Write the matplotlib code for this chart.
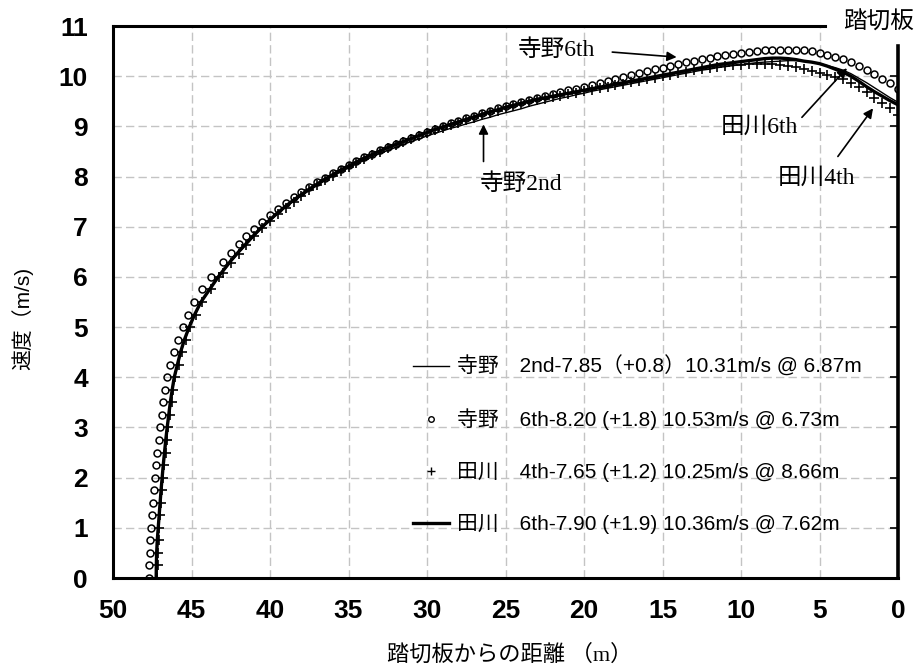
import matplotlib.pyplot as plt
import numpy as np
from matplotlib.lines import Line2D
from matplotlib.ticker import FixedLocator

#======= Donnees =======

# montee (v en m/s, pas 0.25) -> distance lue pour chaque essai
v_rise = [0.0, 0.25, 0.5, 0.75, 1.0, 1.25, 1.5, 1.75, 2.0, 2.25, 2.5, 2.75, 3.0,
          3.25, 3.5, 3.75, 4.0, 4.25, 4.5, 4.75, 5.0, 5.25, 5.5, 5.75, 6.0]

d_rise_teruno2 = [47.22, 47.21, 47.19, 47.15, 47.09, 47.03, 46.97, 46.91, 46.84, 46.77, 46.69, 46.61, 46.52,
                  46.42, 46.32, 46.20, 46.07, 45.87, 45.67, 45.42, 45.12, 44.77, 44.37, 43.82, 43.27]
d_rise_teruno6 = [47.70, 47.69, 47.67, 47.63, 47.58, 47.52, 47.46, 47.40, 47.33, 47.26, 47.18, 47.10, 47.01,
                  46.91, 46.81, 46.69, 46.56, 46.36, 46.14, 45.88, 45.57, 45.22, 44.81, 44.32, 43.78]
d_rise_tagawa4 = [47.17, 47.16, 47.14, 47.10, 47.04, 46.98, 46.92, 46.86, 46.79, 46.72, 46.64, 46.56, 46.47,
                  46.37, 46.27, 46.15, 46.02, 45.82, 45.62, 45.37, 45.07, 44.72, 44.32, 43.78, 43.22]
d_rise_tagawa6 = [47.25, 47.24, 47.22, 47.18, 47.12, 47.06, 47.00, 46.94, 46.87, 46.80, 46.72, 46.64, 46.55,
                  46.45, 46.35, 46.23, 46.10, 45.90, 45.70, 45.45, 45.15, 44.80, 44.40, 43.85, 43.30]

# course (distance au planche, pas 0.5 m) -> vitesse lue
d_run = [43.0, 42.5, 42.0, 41.5, 41.0, 40.5, 40.0, 39.5, 39.0, 38.5,
         38.0, 37.5, 37.0, 36.5, 36.0, 35.5, 35.0, 34.5, 34.0, 33.5,
         33.0, 32.5, 32.0, 31.5, 31.0, 30.5, 30.0, 29.5, 29.0, 28.5,
         28.0, 27.5, 27.0, 26.5, 26.0, 25.5, 25.0, 24.5, 24.0, 23.5,
         23.0, 22.5, 22.0, 21.5, 21.0, 20.5, 20.0, 19.5, 19.0, 18.5,
         18.0, 17.5, 17.0, 16.5, 16.0, 15.5, 15.0, 14.5, 14.0, 13.5,
         13.0, 12.5, 12.0, 11.5, 11.0, 10.5, 10.0, 9.5, 9.0, 8.5,
         8.0, 7.5, 7.0, 6.5, 6.0, 5.5, 5.0, 4.5, 4.0, 3.5,
         3.0, 2.5, 2.0, 1.5, 1.0, 0.5, 0.0]

v_run_teruno2 = [6.10, 6.30, 6.48, 6.65, 6.82, 6.98, 7.12, 7.26, 7.39, 7.51,
                 7.62, 7.72, 7.82, 7.92, 8.01, 8.09, 8.17, 8.25, 8.32, 8.39,
                 8.46, 8.52, 8.58, 8.64, 8.70, 8.75, 8.81, 8.86, 8.91, 8.96,
                 9.00, 9.05, 9.09, 9.14, 9.18, 9.23, 9.27, 9.31, 9.35, 9.40,
                 9.44, 9.48, 9.52, 9.56, 9.59, 9.63, 9.66, 9.70, 9.73, 9.76,
                 9.79, 9.82, 9.85, 9.88, 9.91, 9.94, 9.97, 10.00, 10.03, 10.06,
                 10.09, 10.12, 10.14, 10.17, 10.19, 10.21, 10.23, 10.25, 10.27, 10.28,
                 10.29, 10.30, 10.31, 10.31, 10.30, 10.28, 10.25, 10.21, 10.17, 10.12,
                 10.05, 9.96, 9.87, 9.77, 9.67, 9.57, 9.48]
v_run_teruno6 = [6.30, 6.48, 6.65, 6.81, 6.96, 7.10, 7.23, 7.36, 7.48, 7.59,
                 7.69, 7.79, 7.89, 7.98, 8.07, 8.15, 8.23, 8.31, 8.38, 8.45,
                 8.52, 8.59, 8.65, 8.71, 8.77, 8.83, 8.89, 8.95, 9.00, 9.06,
                 9.11, 9.16, 9.21, 9.26, 9.31, 9.36, 9.41, 9.45, 9.49, 9.53,
                 9.57, 9.61, 9.64, 9.68, 9.72, 9.75, 9.79, 9.83, 9.87, 9.91,
                 9.95, 9.99, 10.03, 10.07, 10.10, 10.14, 10.17, 10.21, 10.24, 10.28,
                 10.31, 10.34, 10.37, 10.40, 10.42, 10.45, 10.47, 10.49, 10.51, 10.52,
                 10.53, 10.53, 10.53, 10.53, 10.52, 10.50, 10.47, 10.43, 10.39, 10.34,
                 10.28, 10.21, 10.13, 10.04, 9.95, 9.86, 9.74]
v_run_tagawa4 = [6.08, 6.28, 6.46, 6.64, 6.81, 6.97, 7.11, 7.25, 7.38, 7.50,
                 7.62, 7.73, 7.83, 7.93, 8.02, 8.11, 8.19, 8.27, 8.35, 8.42,
                 8.49, 8.56, 8.62, 8.68, 8.74, 8.80, 8.86, 8.92, 8.97, 9.02,
                 9.07, 9.12, 9.17, 9.22, 9.27, 9.31, 9.36, 9.40, 9.44, 9.48,
                 9.52, 9.55, 9.58, 9.61, 9.64, 9.67, 9.70, 9.73, 9.76, 9.79,
                 9.82, 9.85, 9.88, 9.91, 9.94, 9.97, 10.00, 10.03, 10.06, 10.09,
                 10.12, 10.15, 10.17, 10.19, 10.21, 10.22, 10.23, 10.24, 10.25, 10.25,
                 10.24, 10.23, 10.21, 10.18, 10.15, 10.11, 10.07, 10.02, 9.98, 9.94,
                 9.87, 9.78, 9.68, 9.57, 9.46, 9.36, 9.22]
v_run_tagawa6 = [6.12, 6.32, 6.50, 6.67, 6.84, 7.00, 7.14, 7.28, 7.41, 7.53,
                 7.64, 7.75, 7.85, 7.95, 8.04, 8.13, 8.21, 8.29, 8.37, 8.44,
                 8.51, 8.58, 8.64, 8.70, 8.76, 8.82, 8.88, 8.94, 8.99, 9.04,
                 9.09, 9.14, 9.19, 9.24, 9.29, 9.33, 9.38, 9.42, 9.46, 9.50,
                 9.54, 9.57, 9.60, 9.63, 9.66, 9.69, 9.72, 9.75, 9.78, 9.81,
                 9.84, 9.87, 9.90, 9.93, 9.96, 9.99, 10.02, 10.05, 10.08, 10.11,
                 10.14, 10.17, 10.20, 10.23, 10.25, 10.27, 10.29, 10.31, 10.33, 10.35,
                 10.36, 10.36, 10.35, 10.33, 10.30, 10.28, 10.25, 10.20, 10.14, 10.08,
                 10.00, 9.90, 9.79, 9.69, 9.60, 9.51, 9.43]

labels = ['寺野\u30002nd-7.85（+0.8）10.31m/s @ 6.87m',
          '寺野\u30006th-8.20 (+1.8) 10.53m/s @ 6.73m',
          '田川\u30004th-7.65 (+1.2) 10.25m/s @ 8.66m',
          '田川\u30006th-7.90 (+1.9) 10.36m/s @ 7.62m']

x_ticks = [50, 45, 40, 35, 30, 25, 20, 15, 10, 5, 0]
y_ticks = [0, 1, 2, 3, 4, 5, 6, 7, 8, 9, 10, 11]

for d in [v_run_teruno2, v_run_teruno6, v_run_tagawa4, v_run_tagawa6]:
    assert len(d) == len(d_run), len(d)

def serie(d_rise, v_run):
    return np.array(d_rise + d_run), np.array(v_rise + v_run)

#======= Figure =======

sans_jp = ['Liberation Sans', 'Noto Sans CJK JP']
serif_jp = ['Liberation Serif', 'Noto Sans CJK JP']

fig = plt.figure(figsize=(9.19, 6.70), dpi=100)
ax = fig.add_axes([113/919, 1-578/670, 785/919, 552/670])

x, y = serie(d_rise_teruno2, v_run_teruno2)
ax.plot(x, y, color='black', lw=1.0, zorder=3)
x, y = serie(d_rise_tagawa6, v_run_tagawa6)
ax.plot(x, y, color='black', lw=2.4, zorder=3)
x, y = serie(d_rise_tagawa4, v_run_tagawa4)
ax.plot(x, y, ls='none', marker='+', ms=7.5, mew=1.2, color='black', zorder=4)
x, y = serie(d_rise_teruno6, v_run_teruno6)
ax.plot(x, y, ls='none', marker='o', ms=5, mew=1.1, mfc='none', mec='black', zorder=5)

ax.set_xlim(50, 0)
ax.set_ylim(0, 11)

ax.set_xticks(x_ticks)
ax.set_yticks(y_ticks)
ax.set_xticklabels([str(t) for t in x_ticks], fontsize=19, fontweight='bold', family='Liberation Sans')
ax.set_yticklabels([str(t) for t in y_ticks], fontsize=19, fontweight='bold', family='Liberation Sans')
ax.tick_params(axis='x', length=0, pad=15)
ax.tick_params(axis='y', which='major', length=0, pad=18)

# petits traits vers l'interieur sur la planche
ax.yaxis.remove_overlapping_locs = False
ax.yaxis.set_minor_locator(FixedLocator(range(0, 11)))
ax.tick_params(axis='y', which='minor', left=False, right=True, direction='in', length=6, width=1.2)

ax.grid(True, color='#c4c4c4', lw=1.0, ls=(0, (6, 3)), zorder=0)
ax.yaxis.get_major_ticks()[-1].gridline.set_visible(False)
ax.xaxis.get_major_ticks()[-1].gridline.set_visible(False)

for s in ['left', 'bottom']:
    ax.spines[s].set_linewidth(2.2)
ax.spines['top'].set_linewidth(2.2)
ax.spines['top'].set_bounds(4.66, 50)
ax.spines['right'].set_linewidth(2.6)
ax.spines['right'].set_bounds(0, 10.6)

#======= Legende =======

handles = [Line2D([], [], color='black', lw=1.0),
           Line2D([], [], ls='none', marker='o', ms=4, mfc='none', mec='black'),
           Line2D([], [], ls='none', marker='+', ms=6, color='black'),
           Line2D([], [], color='black', lw=2.4)]
leg = ax.legend(handles, labels, loc='upper left', bbox_to_anchor=(413/919, 1-356/670),
                bbox_transform=fig.transFigure, frameon=False, numpoints=1,
                handlelength=1.75, handletextpad=0.35, labelspacing=1.52,
                borderpad=0, borderaxespad=0, prop={'family': sans_jp, 'size': 15})

#======= Annotations =======

arrow = dict(arrowstyle='-|>', color='black', lw=1.2, mutation_scale=14, shrinkA=0, shrinkB=0)

ax.text(21.75, 10.52, '寺野6th', family=serif_jp, fontsize=17, ha='center', va='center')
ax.annotate('', xy=(14.1, 10.38), xytext=(18.2, 10.48), arrowprops=arrow)

ax.text(23.98, 7.84, '寺野2nd', family=serif_jp, fontsize=17, ha='center', va='center')
ax.annotate('', xy=(26.4, 9.04), xytext=(26.4, 8.3), arrowprops=arrow)

ax.text(8.8, 8.98, '田川6th', family=serif_jp, fontsize=17, ha='center', va='center')
ax.annotate('', xy=(3.25, 10.16), xytext=(6.12, 9.18), arrowprops=arrow)

ax.text(5.17, 7.96, '田川4th', family=serif_jp, fontsize=17, ha='center', va='center')
ax.annotate('', xy=(1.59, 9.36), xytext=(3.83, 8.4), arrowprops=arrow)

fig.text(878/919, 1-23/670, '踏切板', family=serif_jp, fontsize=17, ha='center', va='center')

fig.text(510/919, 1-655/670, '踏切板からの距離 （m）', family=serif_jp, fontsize=16, ha='center', va='center')
fig.text(22/919, 1-318/670, '速度（m/s)', family=sans_jp, fontsize=15, rotation=90, ha='center', va='center')

fig.savefig('out.png', dpi=100)
